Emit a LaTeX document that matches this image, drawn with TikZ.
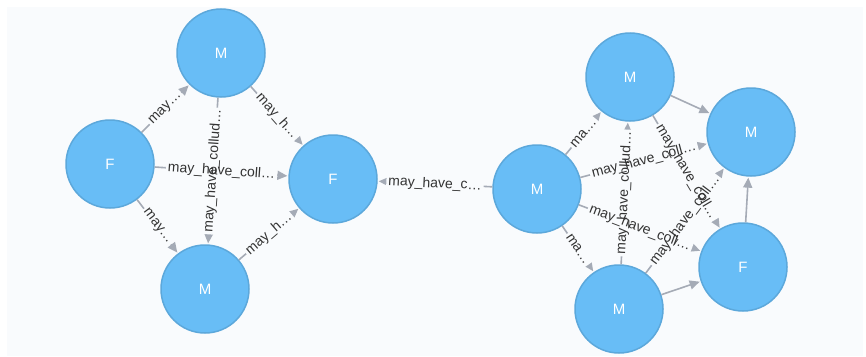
\documentclass[tikz,border=0pt]{standalone}
\usepackage{fontspec}
\setmainfont{Liberation Sans}
\usetikzlibrary{arrows.meta}
\definecolor{bgc}{HTML}{F9FBFD}
\definecolor{nodefill}{HTML}{68BDF6}
\definecolor{nodedraw}{HTML}{5CA8DB}
\definecolor{edgec}{HTML}{A5ABB6}
\definecolor{lblc}{HTML}{333333}
\begin{document}
\begin{tikzpicture}[x=1pt,y=-1pt,
  person/.style={circle, minimum size=88pt, inner sep=0pt, fill=nodefill, draw=nodedraw, line width=1.5pt, text=white, font=\fontsize{15}{15}\selectfont},
  rel/.style={draw=edgec, line width=1.6pt, -{Triangle[length=10pt,width=9pt]}, shorten >=1pt},
  lblbox/.style={sloped, fill=bgc, inner sep=2pt, text opacity=0, font=\fontsize{14}{14}\selectfont},
  lbltext/.style={sloped, inner sep=2pt, text=lblc, font=\fontsize{14}{14}\selectfont}]
\useasboundingbox (0,0) rectangle (866,356);
\fill[white] (0,0) rectangle (866,356);
\fill[bgc] (7,7) rectangle (863,356);
% left cluster
\node[person] (lMt) at (221,53) {M};
\node[person] (lFl) at (110,164) {F};
\node[person] (lFr) at (333,179) {F};
\node[person] (lMb) at (205,289) {M};
% right cluster
\node[person] (rMl) at (537,189) {M};
\node[person] (rMt) at (630,77) {M};
\node[person] (rMr) at (751,132) {M};
\node[person] (rF)  at (743,267) {F};
\node[person] (rMb) at (619,309) {M};
% unlabeled relationships
\foreach \a/\b in {rMt/rMr, rMb/rF, rF/rMr}
  \draw[rel] (\a) -- (\b);
% labeled relationships: lines and label backgrounds
\foreach \a/\b/\t in {
  lFl/lMt/may…, lMt/lFr/may\_h…, lFl/lFr/may\_have\_coll…, lMt/lMb/may\_have\_collud…,
  lFl/lMb/may…, lMb/lFr/may\_h…, rMl/lFr/may\_have\_c…,
  rMl/rMt/ma…, rMl/rMr/may\_have\_coll…, rMl/rF/may\_have\_coll…, rMl/rMb/ma…,
  rMb/rMt/may\_have\_collud…, rMt/rF/may\_have\_coll…, rMb/rMr/may\_have\_coll…}
  \draw[rel] (\a) -- node[lblbox]{\t} (\b);
% label texts
\foreach \a/\b/\t in {
  lFl/lMt/may…, lMt/lFr/may\_h…, lFl/lFr/may\_have\_coll…, lMt/lMb/may\_have\_collud…,
  lFl/lMb/may…, lMb/lFr/may\_h…, rMl/lFr/may\_have\_c…,
  rMl/rMt/ma…, rMl/rMr/may\_have\_coll…, rMl/rF/may\_have\_coll…, rMl/rMb/ma…,
  rMb/rMt/may\_have\_collud…, rMt/rF/may\_have\_coll…, rMb/rMr/may\_have\_coll…}
  \path (\a) -- node[lbltext]{\t} (\b);
\end{tikzpicture}
\end{document}
